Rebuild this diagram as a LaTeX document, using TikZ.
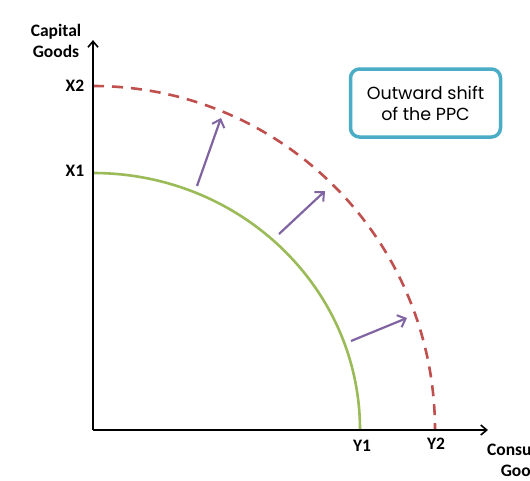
\documentclass[tikz,border=0pt]{standalone}
\usepackage{fontspec}
\setmainfont{Carlito}
\newfontfamily\boxfont{Poppins}
\usetikzlibrary{arrows.meta}
\definecolor{ppcgreen}{HTML}{9BBB59}
\definecolor{ppcred}{HTML}{C0504D}
\definecolor{ppcpurple}{HTML}{8064A2}
\definecolor{ppcteal}{HTML}{4BACC6}
\tikzset{
  axis/.style={line width=2.2pt,-{Straight Barb[length=6pt,width=10pt,line width=1.6pt]}},
  lbl/.style={font=\fontsize{17.5}{21}\selectfont\bfseries,inner sep=0pt,align=center},
  shiftarrow/.style={ppcpurple,line width=2.2pt,-{Straight Barb[length=7pt,width=13pt,line width=2pt]}},
  callout/.style={draw=ppcteal,line width=3.5pt,rounded corners=9pt,fill=white,align=center,
    font=\boxfont\fontsize{17.5}{21}\selectfont,minimum width=150pt,minimum height=68pt}
}
\begin{document}
\begin{tikzpicture}[x=1pt,y=1pt]
\clip (0,0) rectangle (530,-480);
\fill[white] (0,0) rectangle (530,-480);
\coordinate (O) at (93,-430);
\coordinate (ytop) at (93,-40);
\coordinate (xend) at (488,-430);
% curves
\draw[ppcgreen,line width=2.6pt] (93,-173) arc[start angle=90,end angle=0,x radius=267pt,y radius=257pt];
\draw[ppcred,line width=2.6pt,dash pattern=on 11pt off 8pt] (93,-86) arc[start angle=90,end angle=0,x radius=342pt,y radius=344pt];
% axes
\draw[axis] (O) -- (ytop);
\draw[axis] (O) -- (xend);
% labels
\node[lbl] (cap) at (56,-41) {Capital\\Goods};
\node[lbl] (x2) at (75,-86) {X2};
\node[lbl] (x1) at (75,-171) {X1};
\node[lbl] (y1) at (362,-446) {Y1};
\node[lbl] (y2) at (436,-444) {Y2};
\node[lbl] (cons) at (524,-460) {Consumer\\Goods};
% callout
\node[callout] (box) at (425.5,-103) {Outward shift\\of the PPC};
% shift arrows
\coordinate (a1s) at (197,-186); \coordinate (a1e) at (221,-118);
\coordinate (a2s) at (279,-234); \coordinate (a2e) at (325,-191);
\coordinate (a3s) at (351,-341); \coordinate (a3e) at (407,-318);
\draw[shiftarrow] (a1s) -- (a1e);
\draw[shiftarrow] (a2s) -- (a2e);
\draw[shiftarrow] (a3s) -- (a3e);
\end{tikzpicture}
\end{document}
